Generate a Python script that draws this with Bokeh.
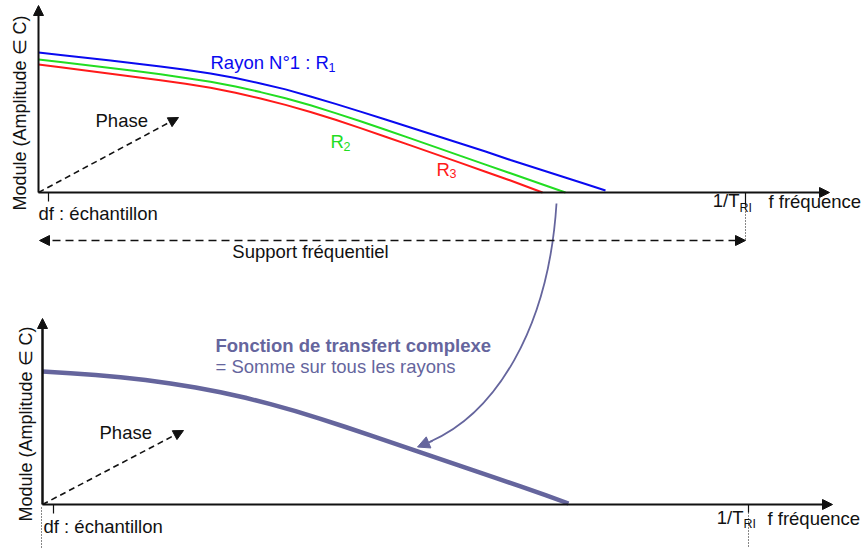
import math
from bokeh.plotting import figure
from bokeh.models import Range1d, Arrow, NormalHead
from bokeh.core.properties import value
from bokeh.embed import file_html
from bokeh.resources import INLINE

FONT = "Liberation Sans"
FS = "18.5px"
SUB = "12.5px"
BLUE = "#0a0af0"
GREEN = "#22dd22"
RED = "#ff1a1a"
PURPLE = "#65659d"
BLACK = "#111111"

# ---------------- data ----------------
# Panel origins (frequency 0 / amplitude 0)
TOP_F0, TOP_BASE = 38, 192
BOT_F0, BOT_BASE = 42, 504

# Ray transfer functions |H_k(f)|: frequency offset from origin, amplitude above axis
F_R1 = [0, 22, 47, 72, 97, 122, 147, 172, 197, 222, 247, 272, 297, 322, 347, 372,
        397, 422, 447, 472, 497, 522, 547, 567]
A_R1 = [140, 137.6, 134.8, 132.0, 129.1, 126.1, 122.7, 118.9, 114.4, 109.0, 103.1, 96.0,
        88.6, 80.9, 73.0, 65.0, 57.0, 49.0, 41.0, 32.5, 24.5, 16.5, 8.5, 2]
F_R2 = [0, 22, 47, 72, 97, 122, 147, 172, 197, 222, 247, 272, 297, 322, 347, 372,
        397, 422, 447, 472, 497, 522, 527]
A_R2 = [133, 130.4, 127.4, 124.4, 121.4, 118.2, 114.6, 110.8, 106.0, 100.4, 94.2, 87.2,
        79.4, 71.2, 62.8, 54.1, 45.4, 36.6, 27.9, 19.2, 10.5, 1.7, 0]
F_R3 = [0, 22, 47, 72, 97, 122, 147, 172, 197, 222, 247, 272, 297, 322, 347, 372,
        397, 422, 447, 472, 504]
A_R3 = [128, 125.2, 122.0, 118.8, 115.6, 112.3, 108.7, 104.8, 99.8, 94.0, 87.6, 80.5,
        72.7, 64.4, 55.8, 47.1, 38.4, 29.6, 20.8, 12.0, 0]
# Complex transfer function (sum over all rays)
F_SUM = [0, 28, 53, 78, 103, 128, 153, 178, 203, 228, 253, 278, 303, 328, 353,
         378, 403, 428, 453, 478, 503, 526]
A_SUM = [133, 131.3, 129.5, 127.2, 124.4, 121.0, 117.0, 112.2, 106.7, 100.4, 93.4, 85.7,
         77.5, 69.1, 60.6, 52.1, 43.6, 35.1, 26.6, 18.1, 9.4, 1]

# frequency marks: df tick and 1/T_RI
TOP_DF, TOP_TRI = 48, 745
BOT_DF, BOT_TRI = 53, 748

p = figure(width=862, height=548, x_range=Range1d(0, 862), y_range=Range1d(548, 0),
           output_backend="svg", toolbar_location=None,
           x_axis_location=None, y_axis_location=None,
           min_border=0, outline_line_color=None,
           background_fill_color="white", border_fill_color="white")
p.grid.grid_line_color = None


def head(color, size=10):
    return NormalHead(size=size, fill_color=color, line_color=color, line_width=1)


def arrow(x0, y0, x1, y1, color=BLACK, lw=2.0, dash="solid", start=False, size=10):
    p.add_layout(Arrow(end=head(color, size), start=head(color, size) if start else None,
                       x_start=x0, y_start=y0, x_end=x1, y_end=y1,
                       line_color=color, line_width=lw, line_dash=dash))


def txt(x, y, s, color=BLACK, size=FS, style="normal", align="left", angle=0.0):
    p.text(x=[x], y=[y], text=[s], text_font=value(FONT), text_font_size=size,
           text_color=color, text_font_style=style, text_align=align,
           text_baseline="middle", angle=angle)


# ---------------- top panel ----------------
arrow(TOP_F0, TOP_BASE, TOP_F0, 5)
arrow(TOP_F0, TOP_BASE, 829, TOP_BASE)
p.line([TOP_F0 + f for f in F_R1], [TOP_BASE - a for a in A_R1], line_color=BLUE, line_width=2)
p.line([TOP_F0 + f for f in F_R2], [TOP_BASE - a for a in A_R2], line_color=GREEN, line_width=2)
p.line([TOP_F0 + f for f in F_R3], [TOP_BASE - a for a in A_R3], line_color=RED, line_width=2)
arrow(TOP_F0, TOP_BASE, 178, 117, lw=1.6, dash="6 4")
p.segment(x0=[TOP_DF, TOP_TRI], y0=[TOP_BASE, TOP_BASE], x1=[TOP_DF, TOP_TRI], y1=[201, 205],
          line_color=BLACK, line_width=1.2)
p.segment(x0=[TOP_TRI], y0=[205], x1=[TOP_TRI], y1=[240], line_color=BLACK, line_width=1, line_dash="1 2")
arrow(TOP_F0 + 1, 240, TOP_TRI, 240, lw=1.6, dash="8 5", start=True)

txt(19, 110, "Module (Amplitude  \u2208 C)", size="18px", align="center", angle=math.pi / 2)
txt(95, 120, "Phase")
txt(38, 213, "df : \u00e9chantillon")
txt(739, 200, "1/T", align="right")
txt(739, 207, "RI", size=SUB)
txt(768, 201, "f fr\u00e9quence")
txt(310, 251, "Support fr\u00e9quentiel", align="center")
txt(210, 62, "Rayon N\u00b01 : R", color=BLUE)
txt(328, 67, "1", color=BLUE, size=SUB)
txt(330, 141, "R", color=GREEN)
txt(343, 146, "2", color=GREEN, size=SUB)
txt(436, 169, "R", color=RED)
txt(449, 173, "3", color=RED, size=SUB)

# ---------------- bottom panel ----------------
arrow(BOT_F0, BOT_BASE, BOT_F0, 318, lw=2.5)
arrow(BOT_F0, BOT_BASE, 832, BOT_BASE)
p.line([BOT_F0 + f for f in F_SUM], [BOT_BASE - a for a in A_SUM], line_color=PURPLE, line_width=4.5)
arrow(BOT_F0, BOT_BASE, 183, 430, lw=1.6, dash="6 4")
p.segment(x0=[BOT_DF, BOT_TRI], y0=[BOT_BASE, BOT_BASE], x1=[BOT_DF, BOT_TRI], y1=[513, 512],
          line_color=BLACK, line_width=1.2)
p.segment(x0=[BOT_TRI, 41], y0=[512, 507], x1=[BOT_TRI, 41], y1=[548, 548],
          line_color=BLACK, line_width=1, line_dash="1 2")

txt(25, 421, "Module (Amplitude  \u2208 C)", size="18px", align="center", angle=math.pi / 2)
txt(99, 432, "Phase")
txt(43, 526, "df : \u00e9chantillon")
txt(743, 517, "1/T", align="right")
txt(743, 523, "RI", size=SUB)
txt(767, 518, "f fr\u00e9quence")
txt(215, 345, "Fonction de transfert complexe", color=PURPLE, style="bold")
txt(215, 366, "= Somme sur tous les rayons", color=PURPLE)

# curved arrow linking the two panels
p.bezier(x0=[556], y0=[203], x1=[430], y1=[441], cx0=[548], cy0=[330], cx1=[494], cy1=[413],
         line_color=PURPLE, line_width=1.8)
arrow(432, 440.3, 417, 446.5, color=PURPLE, lw=1.8, size=12)

open("out.html", "w").write(file_html(p, INLINE))
